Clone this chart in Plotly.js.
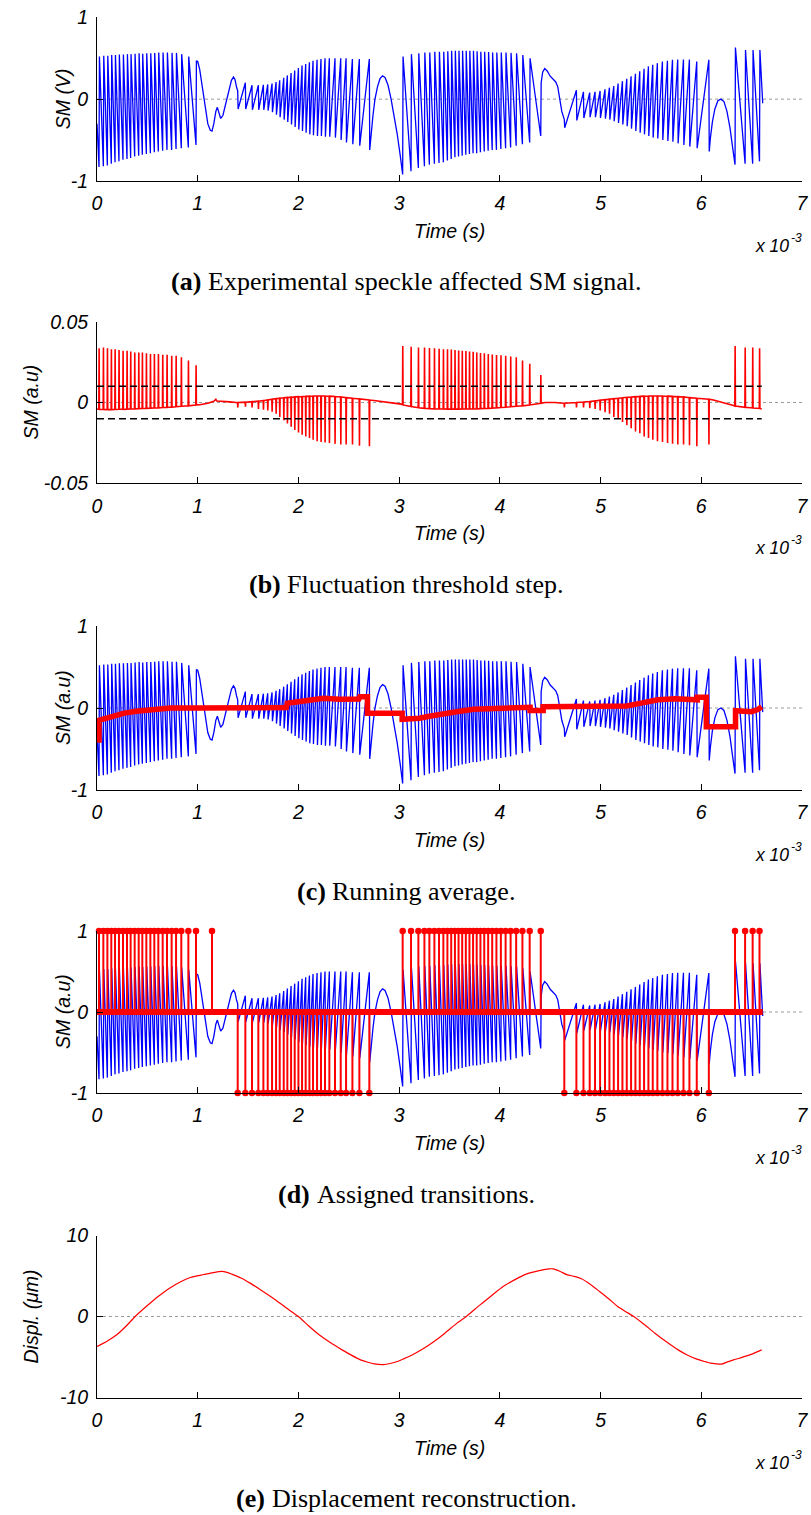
<!DOCTYPE html>
<html><head><meta charset="utf-8">
<script src="https://cdn.plot.ly/plotly-3.0.1.min.js"></script>
<style>html,body{margin:0;padding:0;background:#fff;}#chart{width:811px;height:1515px;}</style>
</head><body><div id="chart"></div>
<script>
// ---------------- DATA (time in ms, i.e. x 10^-3 s) ----------------
// Fringe transition times (ms) per region, and SM levels around each transition
const tA = [0.020,0.063,0.103,0.142,0.179,0.218,0.258,0.298,0.334,0.374,0.414,0.450,0.490,0.530,0.569,0.609,0.652,0.695,0.741,0.785,0.837,0.907,0.983];
const topA = [0.52,0.53,0.53,0.54,0.54,0.545,0.545,0.55,0.55,0.555,0.56,0.555,0.56,0.56,0.565,0.57,0.57,0.57,0.565,0.565,0.55,0.52,0.47];
const botA = [-0.83,-0.82,-0.81,-0.79,-0.77,-0.76,-0.74,-0.73,-0.72,-0.7,-0.69,-0.68,-0.67,-0.66,-0.65,-0.64,-0.63,-0.62,-0.62,-0.61,-0.6,-0.59,-0.56];

const tB = [1.397,1.473,1.539,1.602,1.652,1.695,1.738,1.778,1.814,1.854,1.890,1.927,1.963,2.000,2.036,2.072,2.109,2.145,2.185,2.224,2.264,2.307,2.363,2.420,2.473,2.536,2.605,2.704];
const topB = [0.1,0.2,0.17,0.17,0.175,0.18,0.19,0.21,0.23,0.26,0.29,0.32,0.35,0.38,0.41,0.43,0.45,0.47,0.48,0.49,0.5,0.5,0.5,0.5,0.5,0.49,0.49,0.49];
const botB = [-0.12,-0.12,-0.13,-0.13,-0.13,-0.14,-0.16,-0.19,-0.22,-0.25,-0.28,-0.31,-0.34,-0.37,-0.39,-0.41,-0.43,-0.44,-0.45,-0.45,-0.46,-0.46,-0.47,-0.5,-0.53,-0.55,-0.57,-0.62];

const tC = [3.035,3.118,3.191,3.251,3.300,3.350,3.396,3.439,3.479,3.517,3.554,3.590,3.626,3.662,3.698,3.734,3.770,3.807,3.845,3.884,3.924,3.966,4.010,4.057,4.107,4.162,4.224,4.296,4.406];
const topC = [0.52,0.55,0.56,0.57,0.57,0.58,0.58,0.58,0.585,0.59,0.59,0.59,0.59,0.59,0.59,0.59,0.585,0.58,0.58,0.575,0.57,0.57,0.57,0.57,0.565,0.56,0.54,0.5,0.2];
const botC = [-0.92,-0.88,-0.84,-0.82,-0.8,-0.79,-0.78,-0.77,-0.75,-0.73,-0.71,-0.7,-0.69,-0.68,-0.67,-0.66,-0.66,-0.65,-0.64,-0.63,-0.62,-0.62,-0.61,-0.6,-0.59,-0.57,-0.55,-0.53,-0.45];

const tD = [4.640,4.760,4.830,4.892,4.945,4.995,5.044,5.088,5.131,5.174,5.217,5.260,5.303,5.346,5.389,5.432,5.475,5.518,5.564,5.614,5.664,5.714,5.766,5.823,5.882,5.955,6.075];
const topD = [-0.25,0.11,0.09,0.08,0.09,0.1,0.12,0.14,0.16,0.19,0.22,0.25,0.28,0.31,0.34,0.37,0.4,0.42,0.44,0.46,0.47,0.48,0.485,0.485,0.485,0.46,0.48];
const botD = [-0.35,-0.26,-0.23,-0.22,-0.22,-0.23,-0.24,-0.25,-0.27,-0.29,-0.31,-0.33,-0.36,-0.39,-0.41,-0.43,-0.45,-0.47,-0.48,-0.5,-0.51,-0.52,-0.54,-0.56,-0.58,-0.6,-0.64];

const tE = [6.335,6.435,6.510,6.578];
const topE = [0.63,0.6,0.6,0.6];
const botE = [-0.8,-0.79,-0.79,-0.76];

const extraUp = [1.142];

// Smooth stretches of the SM signal (turning points of the target motion)
const s0T = [0], s0V = [-0.3];
const s1T = [1.0,1.02,1.04,1.07,1.1,1.125,1.142,1.16,1.18,1.195,1.21,1.228,1.25,1.27,1.29,1.31,1.335,1.355,1.37,1.385];
const s1V = [0.46,0.36,0.19,-0.09,-0.3,-0.38,-0.39,-0.3,-0.15,-0.1,-0.17,-0.236,-0.2,-0.1,0.0,0.12,0.23,0.27,0.24,0.15];
const s2T = [2.72,2.74,2.76,2.785,2.81,2.835,2.86,2.89,2.92,2.95,2.98,3.01];
const s2V = [-0.45,-0.2,0.0,0.15,0.25,0.285,0.265,0.17,0.0,-0.2,-0.42,-0.68];
const s3T = [4.425,4.445,4.47,4.5,4.53,4.555,4.575,4.595,4.615];
const s3V = [0.33,0.375,0.345,0.28,0.245,0.21,0.15,0.0,-0.15];
const s4T = [6.09,6.11,6.135,6.165,6.195,6.225,6.255,6.285,6.31];
const s4V = [-0.48,-0.28,-0.12,-0.02,0.0,-0.03,-0.15,-0.35,-0.58];
const s5T = [6.61], s5V = [-0.05];

// (b) fluctuation signal: spike peaks and baseline at each transition
const spkA = [0.0335,0.034,0.0335,0.033,0.033,0.0325,0.032,0.032,0.0315,0.031,0.031,0.031,0.0305,0.03,0.03,0.03,0.0295,0.0295,0.029,0.029,0.028,0.026,0.023];
const baseA = [-0.0042,-0.0043,-0.0044,-0.0044,-0.0043,-0.0042,-0.0042,-0.0041,-0.004,-0.0039,-0.0038,-0.0037,-0.0036,-0.0035,-0.0034,-0.0033,-0.0031,-0.003,-0.0028,-0.0026,-0.0023,-0.002,-0.0015];
const spkB = [-0.003,-0.0026,-0.003,-0.004,-0.0045,-0.005,-0.0057,-0.007,-0.009,-0.011,-0.013,-0.015,-0.017,-0.0186,-0.02,-0.021,-0.022,-0.023,-0.024,-0.0244,-0.0248,-0.025,-0.0256,-0.026,-0.026,-0.026,-0.0267,-0.027];
const baseB = [0.0,0.0002,0.0005,0.0008,0.0012,0.0016,0.002,0.0023,0.0026,0.0029,0.0031,0.0033,0.0035,0.0036,0.0037,0.0038,0.0039,0.004,0.004,0.004,0.004,0.0039,0.0037,0.0034,0.003,0.0026,0.0022,0.0015];
const spkC = [0.035,0.0345,0.034,0.034,0.0338,0.0335,0.0333,0.033,0.033,0.0328,0.0325,0.0322,0.032,0.0318,0.0316,0.0314,0.031,0.0307,0.0304,0.03,0.0297,0.0294,0.0292,0.029,0.0285,0.028,0.026,0.024,0.017];
const baseC = [-0.0015,-0.0025,-0.0032,-0.0036,-0.0038,-0.004,-0.004,-0.004,-0.0041,-0.0041,-0.0041,-0.0041,-0.004,-0.004,-0.004,-0.004,-0.0039,-0.0038,-0.0037,-0.0036,-0.0035,-0.0033,-0.0031,-0.0029,-0.0026,-0.0023,-0.002,-0.0015,-0.0005];
const spkD = [-0.003,-0.003,-0.003,-0.0035,-0.004,-0.005,-0.006,-0.007,-0.009,-0.01,-0.012,-0.014,-0.016,-0.018,-0.019,-0.021,-0.022,-0.023,-0.024,-0.0245,-0.025,-0.0255,-0.026,-0.026,-0.0265,-0.027,-0.026];
const baseD = [-0.0005,0.0,0.0003,0.0006,0.001,0.0014,0.0017,0.002,0.0023,0.0026,0.0029,0.0032,0.0034,0.0036,0.0038,0.0039,0.004,0.004,0.004,0.004,0.0039,0.0038,0.0036,0.0034,0.003,0.0026,0.002];
const spkE = [0.035,0.034,0.034,0.0335];
const baseE = [-0.0022,-0.003,-0.0034,-0.0037];
const b0T = [0], b0V = [-0.004];
const b1T = [1.02,1.1,1.16,1.18,1.19,1.25,1.32,1.38];
const b1V = [-0.0014,-0.0005,0.0008,0.002,0.0009,0.0008,0.0004,0.0];
const b2T = [2.75,2.85,2.95,3.02], b2V = [0.0012,0.0005,-0.0003,-0.001];
const b3T = [4.45,4.5,4.55,4.6], b3V = [0.0,0.0002,0.0,-0.0003];
const b4T = [6.12,6.2,6.28,6.32], b4V = [0.0015,0.0003,-0.001,-0.0018];
const b5T = [6.6], b5V = [-0.004];
const threshold = 0.01;

// (c) running average
const avgT = [0,0.02,0.02,0.03,0.13,0.26,0.39,0.59,0.73,1.0,1.5,1.88,1.89,2.08,2.25,2.41,2.6,2.61,2.685,2.685,3.03,3.03,3.12,3.2,3.3,3.406,3.57,3.74,3.98,4.2,4.3,4.3,4.43,4.43,5.0,5.26,5.39,5.57,5.74,5.93,5.96,5.96,6.05,6.05,6.34,6.34,6.5,6.56,6.6];
const avgV = [-0.39,-0.39,-0.15,-0.146,-0.106,-0.065,-0.04,-0.016,0.0,0.0,0.002,0.006,0.057,0.085,0.118,0.106,0.11,0.138,0.138,-0.065,-0.065,-0.138,-0.138,-0.125,-0.1,-0.073,-0.045,-0.016,0.0,0.008,0.008,-0.03,-0.03,0.016,0.016,0.024,0.057,0.1,0.114,0.1,0.1,0.13,0.13,-0.228,-0.228,-0.033,-0.045,-0.02,0.016];

// (e) displacement (µm)
const dispT = [0,0.1,0.196,0.3,0.379,0.5,0.607,0.72,0.836,0.92,0.995,1.05,1.11,1.17,1.237,1.29,1.338,1.43,1.52,1.63,1.749,1.87,2.0,2.1,2.205,2.32,2.434,2.53,2.616,2.69,2.753,2.845,2.91,2.982,3.05,3.119,3.23,3.347,3.46,3.575,3.667,3.804,3.92,4.032,4.15,4.26,4.37,4.45,4.489,4.53,4.6,4.67,4.74,4.81,4.9,4.99,5.08,5.17,5.25,5.33,5.43,5.54,5.65,5.77,5.86,5.95,6.03,6.09,6.15,6.2,6.26,6.32,6.38,6.45,6.52,6.6];
const dispV = [-3.7,-3.05,-2.26,-1.05,0,1.35,2.47,3.5,4.32,4.78,5.02,5.15,5.3,5.45,5.56,5.45,5.23,4.75,4.12,3.25,2.26,1.15,0,-1.15,-2.26,-3.25,-4.12,-4.8,-5.35,-5.65,-5.84,-5.93,-5.8,-5.56,-5.2,-4.81,-4.05,-3.09,-2.0,-0.82,0,1.44,2.6,3.7,4.55,5.23,5.6,5.82,5.88,5.88,5.55,5.14,4.95,4.65,3.95,3.09,2.2,1.23,0.6,0,-0.95,-2.06,-3.1,-4.12,-4.75,-5.23,-5.55,-5.76,-5.85,-5.88,-5.6,-5.35,-5.15,-4.86,-4.55,-4.12];

// Axes / text
const xRange = [0, 7];
const xTickVals = [0,1,2,3,4,5,6,7];
const xTickText = ['0','1','2','3','4','5','6','7'];
const yRanges = [[-1,1],[-0.05,0.05],[-1,1],[-1,1],[-10,10]];
const yTickVals = [[-1,0,1],[-0.05,0,0.05],[-1,0,1],[-1,0,1],[-10,0,10]];
const yTickText = [['-1','0','1'],['-0.05','0','0.05'],['-1','0','1'],['-1','0','1'],['-10','0','10']];
const yTitles = ['SM (V)','SM (a.u)','SM (a.u)','SM (a.u)','Displ. (\u03bcm)'];
const xTitle = 'Time (s)';
const xScaleBase = 'x 10', xScaleExp = '-3';
const captionLabels = ['(a)','(b)','(c)','(d)','(e)'];
const captionTexts = ['Experimental speckle affected SM signal.','Fluctuation threshold step.','Running average.','Assigned transitions.','Displacement reconstruction.'];

// ---------------- BUILD ----------------
const EPS = 0.004;
function addPts(p, T, V){ for(let k=0;k<T.length;k++) p.push([T[k],V[k]]); }
function addRise(p, T, top, bot){ for(let k=0;k<T.length;k++){ p.push([T[k],bot[k]]); p.push([T[k]+EPS,top[k]]); } }
function addDrop(p, T, top, bot){ for(let k=0;k<T.length;k++){ p.push([T[k],top[k]]); p.push([T[k]+EPS,bot[k]]); } }
function addSpikes(p, T, spk, base){ for(let k=0;k<T.length;k++){ p.push([T[k]-0.002,base[k]]); p.push([T[k]+0.001,spk[k]]); p.push([T[k]+0.004,base[k]]); } }

const sm = [];
addPts(sm,s0T,s0V); addRise(sm,tA,topA,botA); addPts(sm,s1T,s1V);
addDrop(sm,tB,topB,botB); addPts(sm,s2T,s2V); addRise(sm,tC,topC,botC);
addPts(sm,s3T,s3V); addDrop(sm,tD,topD,botD); addPts(sm,s4T,s4V);
addRise(sm,tE,topE,botE); addPts(sm,s5T,s5V);
const smT = sm.map(p=>p[0]), smV = sm.map(p=>p[1]);

const fl = [];
addPts(fl,b0T,b0V); addSpikes(fl,tA,spkA,baseA); addPts(fl,b1T,b1V);
addSpikes(fl,tB,spkB,baseB); addPts(fl,b2T,b2V); addSpikes(fl,tC,spkC,baseC);
addPts(fl,b3T,b3V); addSpikes(fl,tD,spkD,baseD); addPts(fl,b4T,b4V);
addSpikes(fl,tE,spkE,baseE); addPts(fl,b5T,b5V);
const flT = fl.map(p=>p[0]), flV = fl.map(p=>p[1]);

const upT = [].concat(tA, extraUp, tC, tE);
const downT = [].concat(tB, tD);
const stX = [], stY = [];
upT.forEach(t=>{ stX.push(t,t,null); stY.push(0,1,null); });
downT.forEach(t=>{ stX.push(t,t,null); stY.push(0,-1,null); });
const mkX = upT.concat(downT);
const mkY = upT.map(()=>1).concat(downT.map(()=>-1));

const BLUE = '#0000ff', RED = '#ff0000';
const W = 811, H = 1515;
const PX0 = 97, PX1 = 802;
const panels = [[17.3,181],[321.7,483.3],[626,790],[931,1093],[1235.5,1397.5]];
const yTitleX = [63, 31, 63, 63, 30];
const FONT = 'Liberation Sans, Arial, Helvetica, sans-serif';
const SERIF = 'Liberation Serif, Times New Roman, serif';
const TF = 19.5, CF = 26;

const cv = document.createElement('canvas').getContext('2d');
function textW(txt, font){ cv.font = font; return cv.measureText(txt).width; }

const traces = [
  {x:smT, y:smV, xaxis:'x', yaxis:'y', mode:'lines', line:{color:BLUE,width:1.3}, hoverinfo:'skip'},
  {x:flT, y:flV, xaxis:'x2', yaxis:'y2', mode:'lines', line:{color:RED,width:1.6}, hoverinfo:'skip'},
  {x:smT, y:smV, xaxis:'x3', yaxis:'y3', mode:'lines', line:{color:BLUE,width:1.3}, hoverinfo:'skip'},
  {x:avgT, y:avgV, xaxis:'x3', yaxis:'y3', mode:'lines', line:{color:RED,width:5.5}, hoverinfo:'skip'},
  {x:smT, y:smV, xaxis:'x4', yaxis:'y4', mode:'lines', line:{color:BLUE,width:1.3}, hoverinfo:'skip'},
  {x:[smT[0], smT[smT.length-1]], y:[0,0], xaxis:'x4', yaxis:'y4', mode:'lines', line:{color:RED,width:6}, hoverinfo:'skip'},
  {x:stX, y:stY, xaxis:'x4', yaxis:'y4', mode:'lines', line:{color:RED,width:2}, connectgaps:false, hoverinfo:'skip'},
  {x:mkX, y:mkY, xaxis:'x4', yaxis:'y4', mode:'markers', marker:{color:RED,size:6.5}, cliponaxis:false, hoverinfo:'skip'},
  {x:dispT, y:dispV, xaxis:'x5', yaxis:'y5', mode:'lines', line:{color:RED,width:1.2,shape:'spline',smoothing:0.6}, hoverinfo:'skip'}
];

const layout = {width:W, height:H, margin:{l:0,r:0,t:0,b:0}, showlegend:false,
  paper_bgcolor:'#fff', plot_bgcolor:'#fff', font:{family:FONT, color:'#000'},
  shapes:[], annotations:[]};

function ann(text, px, py, xa, font, extra){
  return Object.assign({text:text, xref:'paper', yref:'paper', x:px/W, y:1-py/H, xanchor:xa, yanchor:'middle',
    showarrow:false, borderpad:0, font:font}, extra||{});
}
const italic = sz => ({family:FONT, size:sz, style:'italic', color:'#000'});

for(let i=0;i<5;i++){
  const s = i===0 ? '' : String(i+1);
  const [top,bot] = panels[i];
  const dom = [1-bot/H, 1-top/H];
  layout['xaxis'+s] = {domain:[PX0/W, PX1/W], range:xRange, anchor:'y'+s, showline:true, linecolor:'#000', linewidth:1,
    ticks:'inside', ticklen:6, tickwidth:1, tickcolor:'#000', tickvals:xTickVals, ticktext:xTickText,
    showgrid:false, zeroline:false, fixedrange:true, ticklabelstandoff:5, tickfont:italic(TF)};
  layout['yaxis'+s] = {domain:dom, range:yRanges[i], anchor:'x'+s, showline:true, linecolor:'#000', linewidth:1,
    ticks:'inside', ticklen:6, tickwidth:1, tickcolor:'#000', tickvals:yTickVals[i], ticktext:yTickText[i],
    showgrid:false, zeroline:false, fixedrange:true, ticklabelstandoff:4, tickfont:italic(TF)};
  layout.shapes.push({type:'line', xref:'x'+s, yref:'y'+s, x0:xRange[0], x1:xRange[1], y0:0, y1:0,
    line:{color:'#9a9a9a', width:1, dash:'dot'}, layer:'below'});
  // y title
  layout.annotations.push(ann(yTitles[i], yTitleX[i], (top+bot)/2, 'center', italic(TF), {textangle:-90}));
  // x title
  layout.annotations.push(ann(xTitle, (PX0+PX1)/2, bot+50, 'center', italic(TF)));
  // x 10^-3
  layout.annotations.push(ann(xScaleBase, PX1-12, bot+65, 'right', italic(17.5)));
  layout.annotations.push(ann(xScaleExp, PX1-12, bot+57, 'left', italic(12)));
  // caption: bold label + text, centred on page
  const capFont = `${CF}px "Liberation Serif"`;
  const wl = textW(captionLabels[i], 'bold ' + capFont);
  const wsp = textW(' ', capFont);
  const wt = textW(captionTexts[i], capFont);
  const left = W/2 - (wl + wsp + wt)/2;
  layout.annotations.push(ann(captionLabels[i], left, bot+101, 'left', {family:SERIF, size:CF, weight:'bold', color:'#000'}));
  layout.annotations.push(ann(captionTexts[i], left+wl+wsp, bot+101, 'left', {family:SERIF, size:CF, color:'#000'}));
}
[threshold, -threshold].forEach(v=>{
  layout.shapes.push({type:'line', xref:'x2', yref:'y2', x0:0, x1:flT[flT.length-1], y0:v, y1:v,
    line:{color:'#000', width:1.5, dash:'7px,4px'}, layer:'above'});
});

Plotly.newPlot('chart', traces, layout, {staticPlot:true, displayModeBar:false});
</script></body></html>
